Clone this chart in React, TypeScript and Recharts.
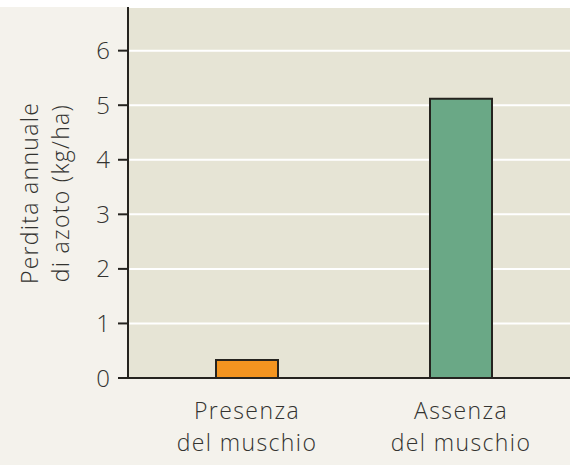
import { BarChart, Bar, CartesianGrid, XAxis, YAxis, Cell } from 'recharts'

const categories = ['Presenza\ndel muschio', 'Assenza\ndel muschio']
const perdita = [0.33, 5.12]
const barColors = ['#f39420', '#6aa886']
const yTicks = [0, 1, 2, 3, 4, 5, 6]
const yLabelLines = ['Perdita annuale', 'di azoto (kg/ha)']

const data = categories.map((c, i) => ({ name: c, value: perdita[i] }))

const FONT = '"Open Sans", "Noto Sans", sans-serif'
const TEXT = '#333330'

function CategoryTick(props: any) {
  const { x, y, payload } = props
  const lines = String(payload.value).split('\n')
  return (
    <text x={x} y={y} textAnchor="middle" fontFamily={FONT} fontSize={23} fontWeight={300} letterSpacing={1.4} fill={TEXT}>
      {lines.map((l, i) => (
        <tspan key={i} x={x} y={y + 41 + i * 32}>
          {l}
        </tspan>
      ))}
    </text>
  )
}

function YLabel() {
  const cy = 186
  return (
    <g>
      {yLabelLines.map((l, i) => (
        <text
          key={i}
          x={0}
          y={0}
          transform={`translate(${38 + i * 31}, ${cy}) rotate(-90)`}
          textAnchor="middle"
          fontFamily={FONT}
          fontSize={23}
          fontWeight={300}
          letterSpacing={1.3}
          fill={TEXT}
        >
          {l}
        </text>
      ))}
    </g>
  )
}

export default function App() {
  return (
    <div style={{ position: 'absolute', left: 0, top: 0, width: 570, height: 465, background: '#ffffff' }}>
      <div style={{ marginTop: 7, width: 570, height: 458, background: '#f4f2ec' }}>
        <BarChart width={570} height={458} data={data} margin={{ top: 0, right: 0, left: 0, bottom: 0 }}>
          <CartesianGrid vertical={false} stroke="#ffffff" strokeWidth={2} fill="#e6e4d5" />
          <XAxis
            dataKey="name"
            height={87}
            padding={{ left: 12, right: 2 }}
            axisLine={{ stroke: '#25231f', strokeWidth: 2 }}
            tickLine={false}
            tickSize={0}
            tickMargin={0}
            tick={<CategoryTick />}
            interval={0}
          />
          <YAxis
            width={128}
            domain={[0, 6.8]}
            ticks={yTicks}
            allowDataOverflow
            axisLine={{ stroke: '#25231f', strokeWidth: 2 }}
            tickLine={{ stroke: '#25231f', strokeWidth: 2 }}
            tickSize={10}
            tickMargin={8}
            tick={{ fontFamily: FONT, fontSize: 24, fontWeight: 300, fill: TEXT }}
            label={<YLabel />}
          />
          <Bar dataKey="value" barSize={62} stroke="#25231f" strokeWidth={2} isAnimationActive={false}>
            {data.map((d, i) => (
              <Cell key={i} fill={barColors[i]} />
            ))}
          </Bar>
        </BarChart>
      </div>
    </div>
  )
}
